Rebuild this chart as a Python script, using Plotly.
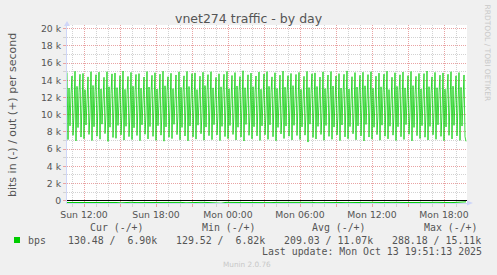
import pandas as pd
import plotly.graph_objects as go

# ---------------- data ----------------
OUT_START = "2025-10-12 10:35"
OUT_BPS = [
    14900, 7100, 13100, 8700, 12400, 14500, 7600, 10200,
    15050, 6950, 13300, 8500, 12600, 14700, 7400, 10400,
    14800, 7200, 12900, 8800, 12300, 14400, 7700, 10100,
    15000, 7000, 13400, 8600, 12700, 14650, 7500, 10300,
    14950, 7150, 13000, 8900, 12500, 14350, 7800, 10000,
    15000, 6900, 13250, 8550, 12450, 14750, 7350, 10350,
    14850, 7250, 13150, 8750, 12550, 14550, 7650, 10250,
    15080, 7050, 12950, 8650, 12350, 14450, 7450, 10150,
    14920, 7120, 13320, 8480, 12620, 14680, 7580, 10380,
    14780, 6980, 13080, 8820, 12280, 14380, 7720, 10080,
    15020, 7180, 13220, 8620, 12520, 14580, 7480, 10280,
    14880, 7020, 12980, 8720, 12420, 14720, 7620, 10180,
    15060, 6920, 13360, 8580, 12680, 14420, 7380, 10420,
    14820, 7220, 13040, 8880, 12320, 14620, 7680, 10120,
    14980, 7080, 13180, 8520, 12580, 14520, 7520, 10320,
    15040, 6960, 13280, 8680, 12480, 14780, 7420, 10220,
    14860, 7160, 12920, 8780, 12380, 14480, 7780, 10060,
    14940, 7040, 13380, 8560, 12640, 14660, 7560, 10360,
    15000, 7100, 13120, 8840, 12340, 14340, 7640, 10140,
    14760, 6990, 13240, 8640, 12560, 14700, 7460, 10260,
    15030, 7210, 13020, 8740, 12440, 14560, 7700, 10200,
    14900, 7060, 13340, 8540, 12660, 14440, 7400, 10400,
    15110, 6940, 13140, 8860, 12360, 14640, 7600, 10100,
    14840, 7190, 13260, 8600, 12540, 14500, 7540, 10300,
    14960, 7010, 12960, 8700, 12420, 14740, 7660, 10160,
    15010, 7130, 13300, 8820, 12600, 14400, 7440, 10340,
    14880, 6970, 13060, 8520, 12300, 14600, 7760, 10040,
    15070, 7230, 13200, 8680, 12500, 14540, 7500, 10240,
    14800, 7070, 13380, 8760, 12700, 14680, 7580, 10380,
    14920, 7110, 12940, 8580, 12380, 14460, 7620, 10120,
    15040, 6820, 13160, 8900, 12460, 14760, 7360, 10280,
    14860, 7170, 13280, 8640, 12560, 14380, 7700, 10200,
    14980, 7030, 13040, 8740, 12340, 14620, 7480, 10360,
    15020, 7140, 13340, 8560, 12640, 14500, 7640, 10100,
    14780, 6990, 13100, 8800, 12420, 14700, 7420, 10320,
    15090, 7200, 12980, 8620, 12520, 14420, 7780, 10180,
    14900, 7080, 13220, 8700, 12300, 14580, 7540, 10260,
    14940, 6950, 13360, 8860, 12680, 14660, 7400, 10400,
    15000, 7160, 13080, 8540, 12400, 14480, 7680, 10080,
    14840, 7040, 13240, 8780, 12580, 14720, 7500, 10340,
    15060, 7190, 12920, 8660, 12360, 14360, 7620, 10140,
    14880, 7000, 13300, 8600, 12620, 14640, 7440, 10300,
    14960, 7120, 13120, 8840, 12480, 14540, 7720, 10220,
    15030, 6960, 13380, 8520, 12320, 14460, 7560, 10380,
    14800, 7220, 13000, 8720, 12660, 14780, 7380, 10160,
    15080, 7060, 13260, 8640, 12440, 14400, 7660, 10280,
    14920, 7140, 13140, 8820, 12540, 14600, 7480, 10100,
    14860, 6980, 12960, 8580, 12380, 14700, 7600, 10360,
    15000, 7180, 13320, 8760, 12600, 14520, 7540, 10240,
    14900, 7020, 13180, 8680, 12460, 14620, 7460, 6900,
]

IN_END = "2025-10-13 19:50"
IN_BPS = [
    -212, -205, -198, -220, -231, -189, -204, -215, -226, -193,
    -208, -247, -201, -186, -219, -210, -199, -233, -214, -202,
    -188, -225, -211, -196, -240, -207, -218, -192, -203, -229,
    -213, -288, -197, -209, -221, -185, -216, -204, -230, -195,
    -206, -223, -200, -190, -217, -212, -199, -236, -205, -194,
    -227, -210, -202, -218, -187, -209, -224, -198, -213, -232,
    -201, -191, -220, -207, -215, -196, -238, -203, -211, -193,
    -222, -206, -214, -200, -189, -226, -208, -219, -197, -205,
    -130,
]

X_RANGE = ["2025-10-12 10:35", "2025-10-13 19:55"]
X_TICKS = [
    "2025-10-12 12:00", "2025-10-12 15:00", "2025-10-12 18:00",
    "2025-10-12 21:00", "2025-10-13 00:00", "2025-10-13 03:00",
    "2025-10-13 06:00", "2025-10-13 09:00", "2025-10-13 12:00",
    "2025-10-13 15:00", "2025-10-13 18:00",
]
X_TICK_LABELS = [
    "Sun 12:00", "", "Sun 18:00", "", "Mon 00:00", "",
    "Mon 06:00", "", "Mon 12:00", "", "Mon 18:00",
]
Y_TICKS = [0, 2000, 4000, 6000, 8000, 10000, 12000, 14000, 16000, 18000, 20000]
Y_TICK_LABELS = ["0", "2 k", "4 k", "6 k", "8 k", "10 k", "12 k", "14 k",
                 "16 k", "18 k", "20 k"]
Y_RANGE = [-267, 20430]

TITLE = "vnet274 traffic - by day"
Y_TITLE = "bits in (-) / out (+) per second"
SERIES_NAME = "bps"
STAT_HEADERS = ["Cur (-/+)", "Min (-/+)", "Avg (-/+)", "Max (-/+)"]
STAT_VALUES = ["130.48 /  6.90k", "129.52 /  6.82k", "209.03 / 11.07k", "288.18 / 15.11k"]
LAST_UPDATE = "Last update: Mon Oct 13 19:51:13 2025"
FOOTER = "Munin 2.0.76"
WATERMARK = "RRDTOOL / TOBI OETIKER"

# ---------------- style ----------------
W, H = 497, 275
L, R, T, B = 67, 30, 25, 72
PW, PH = W - L - R, H - T - B
GREEN = "#00CC00"
TXT = "#555555"
MAJOR = "#E9A3A3"
MINOR = "#D2D2D2"
AXIS = "#CFD6F8"
SANS = "DejaVu Sans"
MONO = "DejaVu Sans Mono"


def px(x):
    return (x - L) / PW


def py(y):
    return (H - B - y) / PH


out_x = pd.date_range(start=OUT_START, periods=len(OUT_BPS), freq="5min")
in_x = pd.date_range(end=IN_END, periods=len(IN_BPS), freq="25min")

fig = go.Figure()
fig.add_trace(go.Scatter(x=out_x, y=OUT_BPS, mode="lines",
                         line=dict(color=GREEN, width=0.75), hoverinfo="skip"))
fig.add_trace(go.Scatter(x=in_x, y=IN_BPS, mode="lines",
                         line=dict(color=GREEN, width=1), hoverinfo="skip"))

fig.update_layout(
    width=W, height=H,
    margin=dict(l=L, r=R, t=T, b=B, pad=0),
    paper_bgcolor="#F0F0F0", plot_bgcolor="#FFFFFF",
    showlegend=False,
    font=dict(family=SANS, color=TXT, size=9.3),
)

fig.update_xaxes(
    range=X_RANGE, tickmode="array", tickvals=X_TICKS, ticktext=X_TICK_LABELS,
    showgrid=True, gridcolor=MAJOR, griddash="1px,1px", gridwidth=1,
    ticks="outside", ticklen=3, tickcolor=MAJOR,
    minor=dict(tickmode="linear", tick0="2025-10-12 00:00", dtick=3600000,
               showgrid=True, gridcolor=MINOR, griddash="1px,1px",
               ticks="outside", ticklen=3, tickcolor=MINOR),
    showline=True, linecolor=AXIS, linewidth=1,
    zeroline=False, tickfont=dict(size=9.3, color=TXT, family=SANS),
    fixedrange=True,
)
fig.update_yaxes(
    range=Y_RANGE, tickmode="array", tickvals=Y_TICKS, ticktext=Y_TICK_LABELS,
    showgrid=True, gridcolor=MAJOR, griddash="1px,1px", gridwidth=1,
    ticks="outside", ticklen=3, tickcolor=MAJOR,
    minor=dict(tickmode="linear", tick0=0, dtick=1000,
               showgrid=True, gridcolor=MINOR, griddash="1px,1px",
               ticks="outside", ticklen=3, tickcolor=MINOR),
    showline=True, linecolor=AXIS, linewidth=1,
    zeroline=True, zerolinecolor="#000000", zerolinewidth=1,
    tickfont=dict(size=9.3, color=TXT, family=SANS),
    fixedrange=True,
)

shapes = [
    # axis arrows
    dict(type="path", xref="paper", yref="paper", xsizemode="pixel", ysizemode="pixel",
         xanchor=0, yanchor=1, path="M -3,-1 L 3,-1 L 0,4 Z",
         fillcolor=AXIS, line=dict(width=0)),
    dict(type="path", xref="paper", yref="paper", xsizemode="pixel", ysizemode="pixel",
         xanchor=1, yanchor=0, path="M 0,-2.5 L 0,2.5 L 6,0 Z",
         fillcolor=AXIS, line=dict(width=0)),
    # legend swatch
    dict(type="rect", xref="paper", yref="paper",
         x0=px(14), x1=px(20), y0=py(243), y1=py(237),
         fillcolor=GREEN, line=dict(width=0)),
]

ann = []


def add(text, x, y, xanchor="left", size=9.9, family=MONO, color=TXT, angle=0):
    ann.append(dict(text=text, x=px(x), y=py(y), xref="paper", yref="paper",
                    xanchor=xanchor, yanchor="middle", showarrow=False,
                    textangle=angle, borderpad=0,
                    font=dict(size=size, family=family, color=color)))


add(TITLE, 248.5, 19, xanchor="center", size=12.5, family=SANS)
add(Y_TITLE, 12, 115, xanchor="center", size=11, family=SANS, angle=-90)
add(WATERMARK, 487.5, 53, xanchor="center", size=7.5, family=SANS,
    color="#C8C8C8", angle=90)

header_x = [89, 200.5, 311, 422.5]
value_x = [66.5, 175, 283, 391]
for hx, htxt in zip(header_x, STAT_HEADERS):
    add(htxt, hx, 227.5)
add(SERIES_NAME, 26.5, 240)
for vx, vtxt in zip(value_x, STAT_VALUES):
    add(vtxt, vx, 240)
add(LAST_UPDATE, 482.5, 251.5, xanchor="right")
add(FOOTER, 247, 264, xanchor="center", size=7.3, family=SANS, color="#C8C8C8")

fig.update_layout(shapes=shapes, annotations=ann)

fig.write_html("out.html", config={"displayModeBar": False})
